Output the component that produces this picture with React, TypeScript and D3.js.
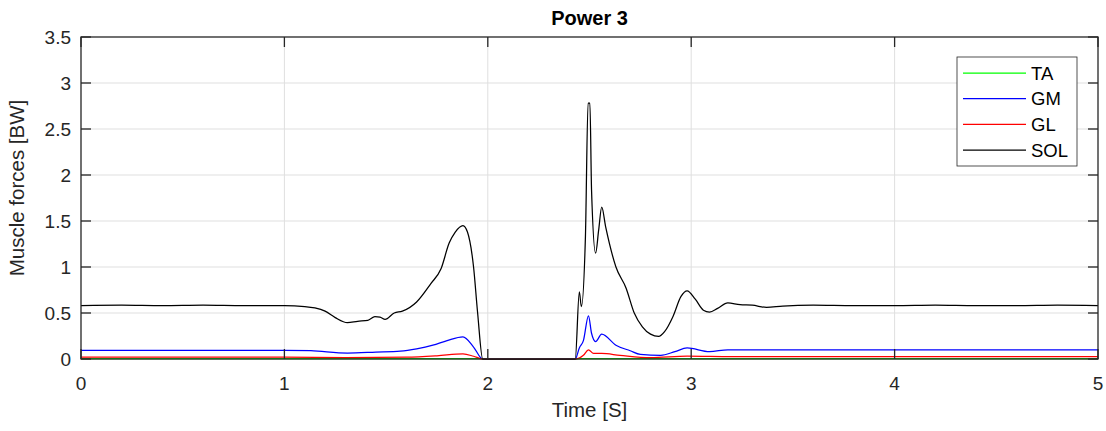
import * as d3 from 'd3'

type Pt = [number, number]

// time [s], force [BW]
const SOL: Pt[] = [
  [0, 0.58], [0.2, 0.585], [0.4, 0.58], [0.6, 0.585], [0.8, 0.58], [1.0, 0.58], [1.1, 0.57],
  [1.15, 0.555], [1.2, 0.52], [1.25, 0.45], [1.31, 0.395], [1.36, 0.41], [1.41, 0.42],
  [1.445, 0.46], [1.47, 0.455], [1.495, 0.43], [1.54, 0.5], [1.58, 0.52], [1.65, 0.62],
  [1.72, 0.82], [1.77, 0.98], [1.81, 1.26], [1.84, 1.38], [1.878, 1.45], [1.9, 1.38],
  [1.93, 1.0], [1.95, 0.5], [1.975, 0], [2.43, 0], [2.45, 0.73], [2.46, 0.57], [2.48, 1.33],
  [2.493, 2.78], [2.502, 2.78], [2.51, 1.84], [2.53, 1.15], [2.545, 1.4], [2.56, 1.65],
  [2.58, 1.43], [2.63, 1.0], [2.68, 0.77], [2.72, 0.5], [2.76, 0.35], [2.8, 0.27],
  [2.84, 0.245], [2.87, 0.3], [2.91, 0.46], [2.95, 0.68], [2.98, 0.74], [3.02, 0.65],
  [3.06, 0.53], [3.09, 0.51], [3.13, 0.55], [3.18, 0.61], [3.24, 0.59], [3.3, 0.585],
  [3.37, 0.56], [3.45, 0.575], [3.6, 0.585], [3.8, 0.58], [4.0, 0.58], [4.2, 0.585],
  [4.4, 0.58], [4.6, 0.58], [4.8, 0.585], [5, 0.58],
]

const GM: Pt[] = [
  [0, 0.095], [0.5, 0.095], [1.0, 0.095], [1.13, 0.09], [1.31, 0.065], [1.45, 0.075],
  [1.57, 0.085], [1.65, 0.11], [1.73, 0.15], [1.8, 0.2], [1.878, 0.24], [1.93, 0.13],
  [1.975, 0], [2.43, 0], [2.45, 0.12], [2.47, 0.2], [2.495, 0.47], [2.51, 0.28],
  [2.53, 0.19], [2.56, 0.27], [2.63, 0.15], [2.7, 0.09], [2.75, 0.05], [2.85, 0.04],
  [2.92, 0.08], [2.98, 0.12], [3.09, 0.08], [3.18, 0.1], [3.5, 0.1], [4, 0.1],
  [4.5, 0.1], [5, 0.1],
]

const GL: Pt[] = [
  [0, 0.02], [1, 0.02], [1.3, 0.015], [1.6, 0.02], [1.75, 0.035], [1.878, 0.055],
  [1.93, 0.03], [1.975, 0], [2.43, 0], [2.47, 0.04], [2.495, 0.1], [2.52, 0.06],
  [2.56, 0.06], [2.65, 0.04], [2.8, 0.015], [2.98, 0.03], [3.2, 0.025], [5, 0.025],
]

const TA: Pt[] = [
  [0, 0.005], [1.975, 0.005], [2.0, 0], [2.43, 0], [2.45, 0.005], [5, 0.005],
]

const seriesNames = ['TA', 'GM', 'GL', 'SOL']
const seriesColors = ['#00ff00', '#0000ff', '#ff0000', '#000000']
const seriesData = [TA, GM, GL, SOL]

const xTicks = [0, 1, 2, 3, 4, 5]
const yTicks = [0, 0.5, 1, 1.5, 2, 2.5, 3, 3.5]

const W = 1106
const H = 431
const m = { left: 81, right: 8, top: 37, bottom: 72 }
const FONT = '"Liberation Sans", Arial, Helvetica, sans-serif'
const AX = '#262626'

export default function App() {
  const innerW = W - m.left - m.right
  const innerH = H - m.top - m.bottom
  const x = d3.scaleLinear().domain([0, 5]).range([0, innerW])
  const y = d3.scaleLinear().domain([0, 3.5]).range([innerH, 0])
  const line = d3.line<Pt>().x(d => x(d[0])).y(d => y(d[1])).curve(d3.curveMonotoneX)
  const tick = 10

  return (
    <svg width={W} height={H} style={{ position: 'absolute', left: 0, top: 0, background: '#fff' }}
      fontFamily={FONT}>
      <text x={m.left + innerW / 2} y={25} textAnchor="middle" fontSize={20} fontWeight="bold" fill="#000">
        Power 3
      </text>
      <g transform={`translate(${m.left},${m.top})`}>
        {/* grid */}
        {xTicks.slice(1, -1).map(t => (
          <line key={'gx' + t} x1={x(t)} x2={x(t)} y1={0} y2={innerH} stroke="#dfdfdf" />
        ))}
        {yTicks.slice(1, -1).map(t => (
          <line key={'gy' + t} x1={0} x2={innerW} y1={y(t)} y2={y(t)} stroke="#dfdfdf" />
        ))}
        {/* series */}
        {seriesData.map((s, i) => (
          <path key={seriesNames[i]} d={line(s) ?? ''} fill="none" stroke={seriesColors[i]}
            strokeWidth={1.25} strokeLinejoin="round" />
        ))}
        {/* box and ticks */}
        <rect x={0} y={0} width={innerW} height={innerH} fill="none" stroke={AX} strokeWidth={1.3} />
        {xTicks.map(t => (
          <g key={'tx' + t}>
            <line x1={x(t)} x2={x(t)} y1={innerH} y2={innerH - tick} stroke={AX} strokeWidth={1.3} />
            <line x1={x(t)} x2={x(t)} y1={0} y2={tick} stroke={AX} strokeWidth={1.3} />
            <text x={x(t)} y={innerH + 31} textAnchor="middle" fontSize={19} fill={AX}>{t}</text>
          </g>
        ))}
        {yTicks.map(t => (
          <g key={'ty' + t}>
            <line x1={0} x2={tick} y1={y(t)} y2={y(t)} stroke={AX} strokeWidth={1.3} />
            <line x1={innerW} x2={innerW - tick} y1={y(t)} y2={y(t)} stroke={AX} strokeWidth={1.3} />
            <text x={-10} y={y(t) + 6.5} textAnchor="end" fontSize={19} fill={AX}>{d3.format('~g')(t)}</text>
          </g>
        ))}
        <text x={innerW / 2} y={innerH + 58} textAnchor="middle" fontSize={20.5} fill={AX}>Time [S]</text>
        <text transform={`translate(-57,${innerH / 2 - 10}) rotate(-90)`} textAnchor="middle" fontSize={20.5} fill={AX}>
          Muscle forces [BW]
        </text>
        {/* legend */}
        <g transform={`translate(${957 - m.left},${57 - m.top})`}>
          <rect x={0} y={0} width={120} height={109} fill="#fff" stroke="#262626" strokeWidth={0.8} />
          {seriesNames.map((n, i) => (
            <g key={'lg' + n} transform={`translate(0,${16 + i * 25.7})`}>
              <line x1={6} x2={69} y1={0} y2={0} stroke={seriesColors[i]} strokeWidth={1.25} />
              <text x={74} y={6.5} fontSize={18.5} fill="#000">{n}</text>
            </g>
          ))}
        </g>
      </g>
    </svg>
  )
}
